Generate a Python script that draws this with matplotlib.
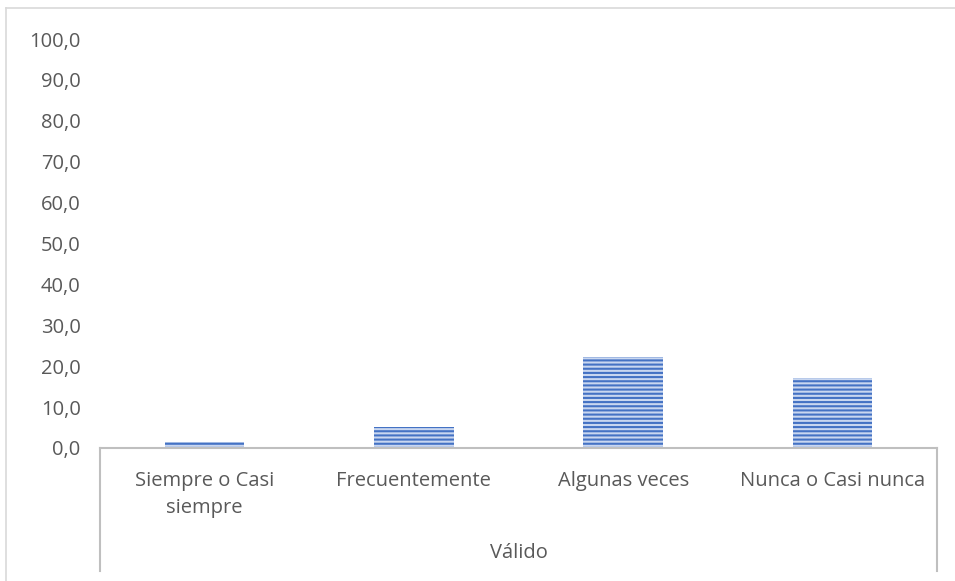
import matplotlib
matplotlib.use("Agg")
import matplotlib.pyplot as plt
from matplotlib.lines import Line2D

categories = ["Siempre o Casi\nsiempre", "Frecuentemente", "Algunas veces", "Nunca o Casi nunca"]
values = [1.5, 5.1, 22.2, 17.1]
group_label = "Válido"
yticks = [0, 10, 20, 30, 40, 50, 60, 70, 80, 90, 100]

W, H = 955, 581
plt.rcParams["font.family"] = ["Open Sans", "DejaVu Sans"]
plt.rcParams["hatch.linewidth"] = 1.5
text_color = "#595959"
axis_color = "#BFBFBF"
fs = 14.5

fig = plt.figure(figsize=(W / 100, H / 100), dpi=100)
ax_left, ax_right = 100 / W, 937 / W
ax_bottom, ax_top = 1 - 448 / H, 1 - 39 / H
ax = fig.add_axes([ax_left, ax_bottom, ax_right - ax_left, ax_top - ax_bottom])

x = list(range(len(categories)))
ax.bar(x, values, width=0.38, color="#C9D7F0", edgecolor="#4472C4",
       linewidth=0, hatch="----", zorder=2)

ax.set_xlim(-0.5, len(categories) - 0.5)
ax.set_ylim(0, 100)
ax.set_yticks(yticks)
ax.set_yticklabels([f"{v:.1f}".replace(".", ",") for v in yticks],
                   fontsize=fs, color=text_color)
ax.tick_params(axis="y", length=0, pad=14)
ax.set_xticks([])

for side in ["top", "right", "left"]:
    ax.spines[side].set_visible(False)
ax.spines["bottom"].set_color(axis_color)
ax.spines["bottom"].set_linewidth(1.5)

span = 448 - 39
def frac(ypix):
    return (448 - ypix) / span

trans = ax.get_xaxis_transform()
for xi, lab in zip(x, categories):
    ax.text(xi, frac(471), lab, transform=trans, ha="center", va="top",
            fontsize=fs, color=text_color, linespacing=1.5)
ax.text((x[0] + x[-1]) / 2, frac(553), group_label, transform=trans,
        ha="center", va="center", fontsize=fs, color=text_color)

# multi-level category axis dividers
for xe in [-0.5, len(categories) - 0.5]:
    ax.add_line(Line2D([xe, xe], [0, frac(571)], transform=trans,
                       color=axis_color, linewidth=1.5, clip_on=False))

# chart area border
fig.add_artist(Line2D([6 / W, 1], [1 - 7.5 / H, 1 - 7.5 / H], transform=fig.transFigure,
                      color="#D9D9D9", linewidth=1.2))
fig.add_artist(Line2D([6 / W, 6 / W], [1 - 7.5 / H, 0], transform=fig.transFigure,
                      color="#D9D9D9", linewidth=1.2))

fig.savefig("out.png", dpi=100)
